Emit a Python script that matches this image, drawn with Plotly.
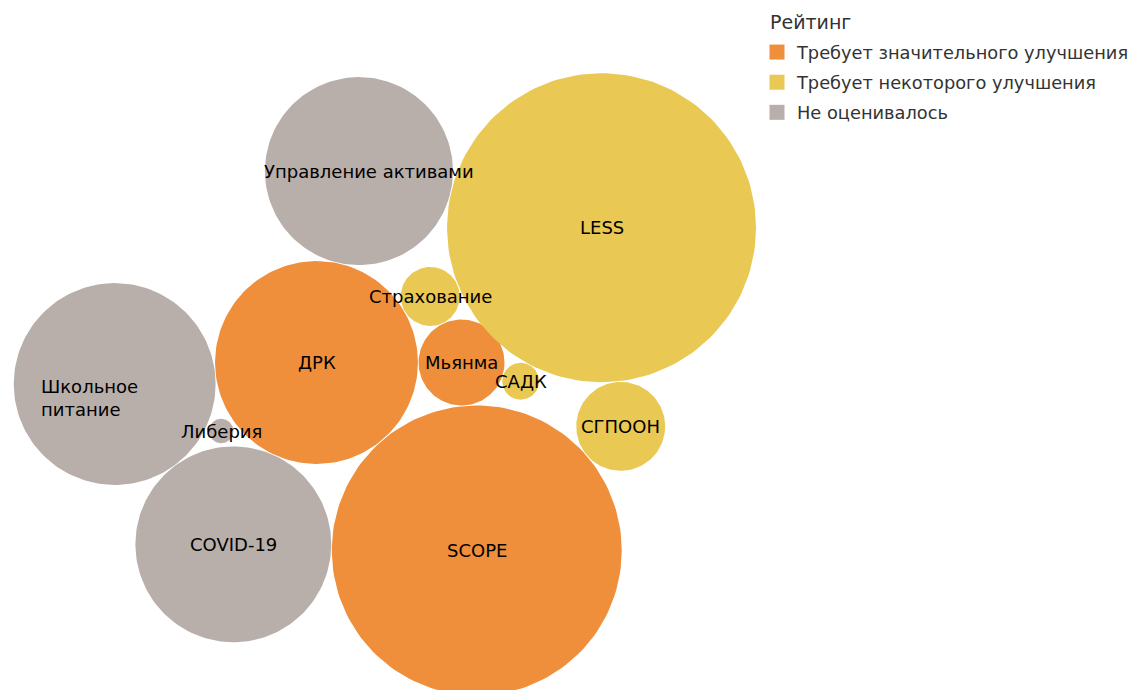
import math
import numpy as np
import plotly.graph_objects as go

# ---- data ----
names = ["ДРК", "Управление активами", "Мьянма", "Страхование", "LESS", "SCOPE",
         "САДК", "СГПООН", "COVID-19", "Школьное питание", "Либерия"]
labels = ["ДРК", "Управление активами", "Мьянма", "Страхование", "LESS", "SCOPE",
          "САДК", "СГПООН", "COVID-19", "Школьное<br>питание", "Либерия"]
values = [10.3, 8.85, 1.85, 0.87, 23.9, 21.05, 0.34, 1.98, 9.6, 10.2, 0.15]
ratings = ["Требует значительного улучшения", "Не оценивалось", "Требует значительного улучшения",
           "Требует некоторого улучшения", "Требует некоторого улучшения",
           "Требует значительного улучшения", "Требует некоторого улучшения",
           "Требует некоторого улучшения", "Не оценивалось", "Не оценивалось", "Не оценивалось"]
rating_order = ["Требует значительного улучшения", "Требует некоторого улучшения", "Не оценивалось"]
rating_colors = ["#EF8F3B", "#E9C853", "#B8AFAA"]
legend_title = "Рейтинг"

# ---- packing (each bubble placed tangent to earlier ones) ----
radii = [math.sqrt(v) for v in values]
GAP = 0.02
centers = {}

def polar(a, r, angle_deg):
    ca = centers[a]
    d = radii[a] + r + GAP
    t = math.radians(angle_deg)
    return (ca[0] + d * math.cos(t), ca[1] + d * math.sin(t))

def tangent(a, b, r, side, gap=GAP):
    ax, ay = centers[a]; bx, by = centers[b]
    da = radii[a] + r + gap; db = radii[b] + r + gap
    dx, dy = bx - ax, by - ay
    d = math.hypot(dx, dy)
    aa = (da * da - db * db + d * d) / (2 * d)
    h = math.sqrt(max(da * da - aa * aa, 0))
    ux, uy = dx / d, dy / d
    px, py = -uy, ux
    return (ax + aa * ux + side * h * px, ay + aa * uy + side * h * py)

idx = {n: i for i, n in enumerate(names)}
centers[idx["ДРК"]] = (0.0, 0.0)
centers[idx["Управление активами"]] = polar(idx["ДРК"], radii[idx["Управление активами"]], 77.5)
centers[idx["Мьянма"]] = polar(idx["ДРК"], radii[idx["Мьянма"]], 0)
centers[idx["Страхование"]] = tangent(idx["ДРК"], idx["Мьянма"], radii[idx["Страхование"]], 1)
centers[idx["LESS"]] = tangent(idx["Управление активами"], idx["Страхование"], radii[idx["LESS"]], 1)
centers[idx["SCOPE"]] = tangent(idx["ДРК"], idx["Мьянма"], radii[idx["SCOPE"]], -1)
centers[idx["САДК"]] = tangent(idx["Мьянма"], idx["LESS"], radii[idx["САДК"]], -1)
centers[idx["СГПООН"]] = tangent(idx["SCOPE"], idx["LESS"], radii[idx["СГПООН"]], -1)
centers[idx["COVID-19"]] = tangent(idx["ДРК"], idx["SCOPE"], radii[idx["COVID-19"]], -1)
centers[idx["Школьное питание"]] = tangent(idx["ДРК"], idx["COVID-19"], radii[idx["Школьное питание"]], -1)
centers[idx["Либерия"]] = tangent(idx["ДРК"], idx["COVID-19"], radii[idx["Либерия"]], -1, 0.12)

theta = np.linspace(0, 2 * np.pi, 160)
fig = go.Figure()
for rating, color in zip(rating_order, rating_colors):
    xs, ys = [], []
    for i, r in enumerate(ratings):
        if r != rating:
            continue
        cx, cy = centers[i]
        xs += list(cx + radii[i] * np.cos(theta)) + [None]
        ys += list(cy + radii[i] * np.sin(theta)) + [None]
    fig.add_trace(go.Scatter(x=xs, y=ys, mode="lines", fill="toself", fillcolor=color,
                             line=dict(color=color, width=0), name=rating, hoverinfo="skip",
                             showlegend=False, legendgroup=rating))
    # legend entry with square swatch
    fig.add_trace(go.Scatter(x=[None], y=[None], mode="markers", name=rating,
                             marker=dict(symbol="square", size=15, color=color),
                             legendgroup=rating, showlegend=True))

label_xshift = {"Управление активами": 10, "Школьное питание": -25}
for i, lab in enumerate(labels):
    cx, cy = centers[i]
    multi = "<br>" in lab
    fig.add_annotation(x=cx, y=cy, text=lab, showarrow=False,
                       xshift=label_xshift.get(names[i], 0), yshift=-14 if multi else 0,
                       align="left" if multi else "center",
                       font=dict(family="DejaVu Sans", size=18, color="#000000"))

K = 31.6  # px per unit
W, H = 1137, 690
ox, oy = 308.5, 354.5
fig.add_annotation(xref="paper", yref="paper", x=760 / W, y=1 - 14 / H,
                   xanchor="left", yanchor="middle", showarrow=False, text=legend_title,
                   font=dict(family="DejaVu Sans", size=19, color="#333333"))
fig.update_layout(
    width=W, height=H, margin=dict(l=0, r=0, t=0, b=0),
    plot_bgcolor="white", paper_bgcolor="white",
    xaxis=dict(range=[-ox / K, (W - ox) / K], visible=False),
    yaxis=dict(range=[-(H - oy) / K, oy / K], visible=False),
    showlegend=True,
    legend=dict(x=749 / W, y=1 - 26 / H, xanchor="left", yanchor="top",
                font=dict(family="DejaVu Sans", size=17.8, color="#333333"),
                tracegroupgap=4),
    font=dict(family="DejaVu Sans"),
)
fig.write_html("out.html")
